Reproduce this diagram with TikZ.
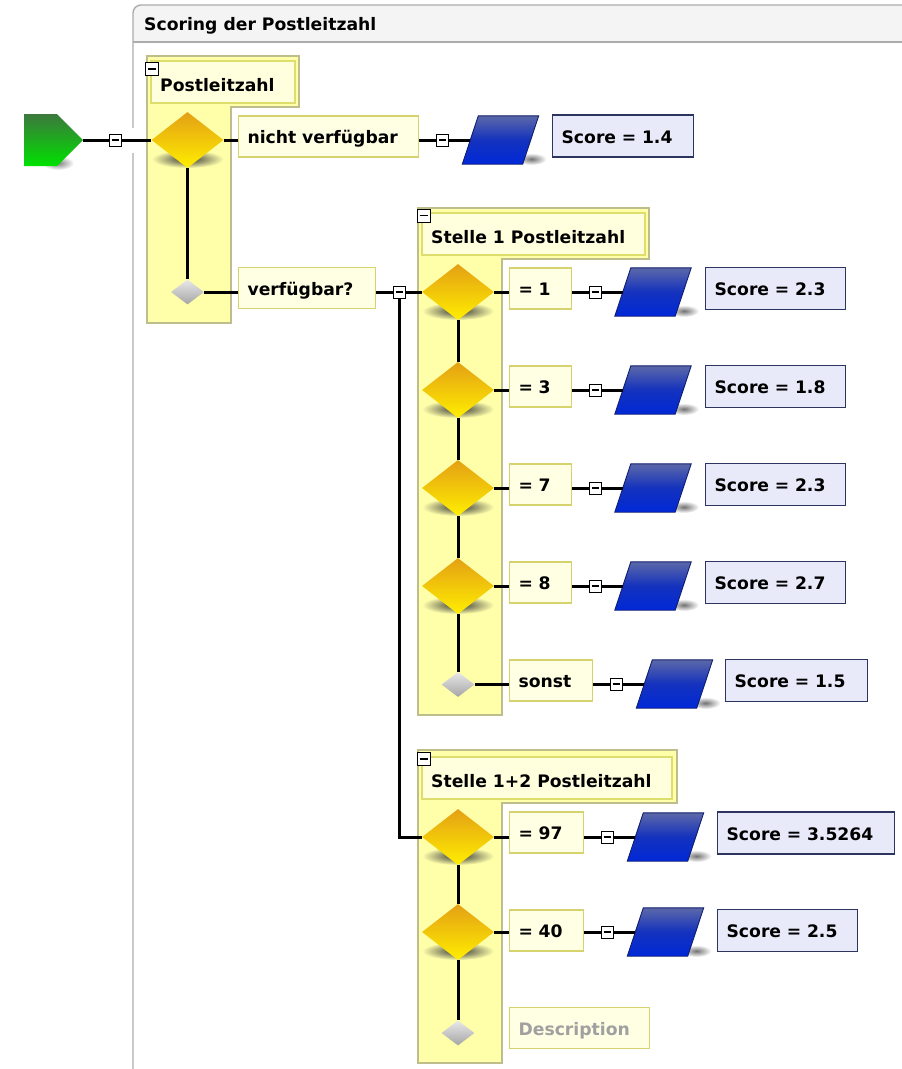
\documentclass[tikz,border=0pt]{standalone}
\usepackage{fontspec}
\setmainfont{DejaVu Sans}
\usetikzlibrary{shapes.geometric,shapes.symbols,calc}
\definecolor{colfill}{RGB}{255,255,170}
\definecolor{colborder}{RGB}{190,190,140}
\definecolor{titlefill}{RGB}{255,255,222}
\definecolor{titleborder}{RGB}{222,222,110}
\definecolor{boxfill}{RGB}{255,255,228}
\definecolor{boxborder}{RGB}{214,210,110}
\definecolor{scorefill}{RGB}{232,234,250}
\definecolor{scoreborder}{RGB}{46,52,96}
\definecolor{framegray}{RGB}{172,172,172}
\definecolor{headfill}{RGB}{244,244,244}
\definecolor{goldtop}{RGB}{228,160,20}
\definecolor{goldbot}{RGB}{255,238,0}
\definecolor{greytop}{RGB}{232,232,232}
\definecolor{greybot}{RGB}{165,165,165}
\definecolor{bluetop}{RGB}{92,104,168}
\definecolor{bluemid}{RGB}{20,50,190}
\definecolor{bluebot}{RGB}{0,40,215}
\definecolor{blueborder}{RGB}{16,30,110}
\definecolor{greentop}{RGB}{60,120,60}
\definecolor{greenbot}{RGB}{0,225,0}
\definecolor{desc}{RGB}{160,160,160}
\begin{document}
\begin{tikzpicture}[x=1pt,y=-1pt,
  every node/.style={font=\fontsize{17.2}{20}\selectfont\bfseries},
  conn/.style={line width=3pt},
  collapse/.style={draw=black, line width=1pt, fill=white, minimum size=12pt, inner sep=0pt,
     path picture={\draw[line width=1.1pt] ([xshift=2.5pt]path picture bounding box.west) -- ([xshift=-2.5pt]path picture bounding box.east);}},
  tbox/.style={draw=boxborder, line width=1.2pt, fill=boxfill, anchor=west, minimum height=41pt, inner xsep=9pt, inner ysep=0pt, text width=#1, align=left, text height=14pt, text depth=0pt},
  sbox/.style={draw=scoreborder, line width=1.2pt, fill=scorefill, anchor=west, minimum height=42pt, inner xsep=9pt, inner ysep=0pt, text width=#1, align=left, text height=14pt, text depth=0pt},
  golddia/.style={diamond, minimum width=72pt, minimum height=56pt, inner sep=0pt, top color=goldtop, bottom color=goldbot},
  greydia/.style={diamond, minimum width=33pt, minimum height=25pt, inner sep=0pt, top color=greytop, bottom color=greybot},
  parabox/.style={rectangle, minimum width=60pt, minimum height=48pt, inner sep=0pt},
  parafill/.style={top color=bluetop, bottom color=bluebot, middle color=bluemid, draw=blueborder, line width=0.9pt},
  gtitle/.style={anchor=west, text height=14pt, text depth=0pt, inner sep=0pt},
  grpfill/.style={fill=colfill, draw=colborder, line width=1.2pt},
  grptitle/.style={fill=titlefill, draw=titleborder, line width=1.2pt},
]
\useasboundingbox (0,0) rectangle (902,1069);
% frame
\fill[headfill] (133,42) [rounded corners=8pt] -- (133,5) [sharp corners] -- (910,5) -- (910,42) -- cycle;
\draw[framegray, line width=1.4pt, rounded corners=8pt] (133,1080) -- (133,5) -- (910,5);
\draw[framegray, line width=1.4pt] (133,42) -- (910,42);
\fill[white] (129,128) rectangle (137,153);
\node[gtitle] (head) at (144,23) {Scoring der Postleitzahl};

% groups
\filldraw[grpfill] (147,56) -- (299,56) -- (299,107) -- (231,107) -- (231,323) -- (147,323) -- cycle;
\filldraw[grptitle] (151,61) rectangle (295,103);
\filldraw[grpfill] (418,208) -- (649,208) -- (649,259) -- (502,259) -- (502,715) -- (418,715) -- cycle;
\filldraw[grptitle] (422,213) rectangle (645,255);
\filldraw[grpfill] (418,750) -- (677,750) -- (677,803) -- (502,803) -- (502,1063) -- (418,1063) -- cycle;
\filldraw[grptitle] (422,757) rectangle (672,799);

\node[gtitle] (h0) at (160,84.5) {Postleitzahl};
\node[gtitle] (h1) at (431,236) {Stelle 1 Postleitzahl};
\node[gtitle] (h2) at (431,780) {Stelle 1+2 Postleitzahl};
\node[collapse, minimum size=13pt] (kk0) at (152,69) {};
\node[collapse, minimum size=13pt] (kk1) at (423.5,215.5) {};
\node[collapse, minimum size=13pt] (kk2) at (423.5,759) {};

% shadows
\foreach \x/\y in {187.5/140, 458/292, 458/390, 458/488, 458/586, 458/837, 458/932}
  \shade[inner color=black!80, outer color=colfill] (\x,\y+19) ellipse (36 and 9);
\foreach \x/\y in {500.5/140, 653/292, 653/390, 653/488, 653/586, 674.5/684, 665.5/837, 665.5/932}
  \shade[inner color=black!55, outer color=white] (\x+31,\y+19) ellipse (15 and 6);
\shade[inner color=black!50, outer color=white] (58,163) ellipse (16 and 7);

% start
\node[signal, signal to=east, signal pointer angle=90, minimum width=59pt, minimum height=52pt, inner sep=0pt, top color=greentop, bottom color=greenbot] (start) at (40.5,140) {};
\node[collapse] (kS) at (115,140) {};

% Postleitzahl
\node[golddia] (d0) at (187.5,140) {};
\node[greydia] (g0) at (187.5,292) {};
\node[tbox=162pt] (t0) at (238,136.5) {nicht verfügbar};
\node[collapse] (k0) at (442,140) {};
\node[parabox] (p0) at (500.5,140) {};
\node[sbox=123pt] (s0) at (552,136) {Score = 1.4};
\node[tbox=119pt] (tv) at (238,288) {verfügbar?};
\node[collapse] (kv) at (399,292) {};

% Stelle 1
\foreach \i/\y/\lab/\sc in {1/292/{= 1}/2.3, 2/390/{= 3}/1.8, 3/488/{= 7}/2.3, 4/586/{= 8}/2.7} {
  \node[golddia] (d\i) at (458,\y) {};
  \node[tbox=44pt] (t\i) at (509,\y-3.5) {\lab};
  \node[collapse] (k\i) at (595,\y) {};
  \node[parabox] (p\i) at (653,\y) {};
  \node[sbox=122pt] (s\i) at (705,\y-3.5) {Score = \sc};
}
\node[greydia] (g1) at (458,684.5) {};
\node[tbox=65pt] (t5) at (509,680.5) {sonst};
\node[collapse] (k5) at (616,684) {};
\node[parabox] (p5) at (674.5,684) {};
\node[sbox=124pt] (s5) at (725,680.5) {Score = 1.5};

% Stelle 1+2
\node[golddia] (d7) at (458,837) {};
\node[tbox=56pt] (t7) at (509,832.5) {= 97};
\node[collapse] (k7) at (607,837) {};
\node[parabox] (p7) at (665.5,837) {};
\node[sbox=159pt] (s7) at (717,833) {Score = 3.5264};
\node[golddia] (d8) at (458,932) {};
\node[tbox=56pt] (t8) at (509,930.5) {= 40};
\node[collapse] (k8) at (607,932) {};
\node[parabox] (p8) at (665.5,932) {};
\node[sbox=122pt] (s8) at (717,930.5) {Score = 2.5};
\node[greydia] (g2) at (458,1033) {};
\node[tbox=122pt, text=desc] (t9) at (509,1028) {Description};

% parallelograms
\foreach \n in {p0,p1,p2,p3,p4,p5,p7,p8}
  \shade[parafill] ([xshift=-8pt]\n.south west) -- ([xshift=8pt]\n.north west) -- ([xshift=8pt]\n.north east) -- ([xshift=-8pt]\n.south east) -- cycle;

% connectors
\draw[conn] (start) -- (kS) -- (d0);
\draw[conn] (d0) -- (d0 -| t0.west);
\draw[conn] (t0.east |- k0) -- (k0) -- (p0);
\draw[conn] (d0) -- (g0);
\draw[conn] (g0) -- (g0 -| tv.west);
\draw[conn] (tv.east |- kv) -- (kv) -- (d1);
\draw[conn] (kv) |- (d7);
\foreach \i in {1,...,4}
  \draw[conn] (d\i) -- (d\i -| t\i.west) (t\i.east |- k\i) -- (k\i) -- (p\i);
\draw[conn] (d1) -- (d2) -- (d3) -- (d4) -- (g1);
\draw[conn] (g1) -- (g1 -| t5.west) (t5.east |- k5) -- (k5) -- (p5);
\draw[conn] (d7) -- (d7 -| t7.west) (t7.east |- k7) -- (k7) -- (p7);
\draw[conn] (d8) -- (d8 -| t8.west) (t8.east |- k8) -- (k8) -- (p8);
\draw[conn] (d7) -- (d8) -- (g2);
\end{tikzpicture}
\end{document}
